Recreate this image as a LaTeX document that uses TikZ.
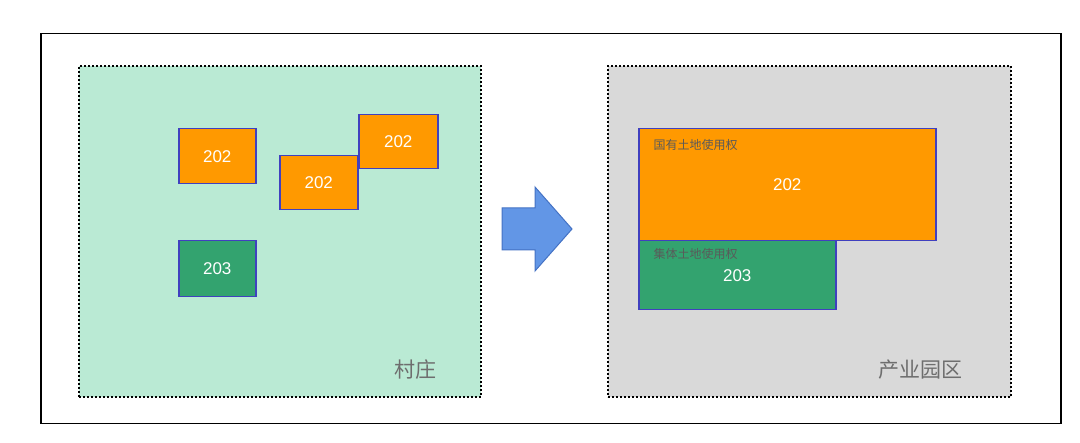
\documentclass[tikz,border=0pt]{standalone}
\usepackage{fontspec}
\setmainfont{Liberation Sans}
\newfontfamily\cjk{Noto Sans CJK SC}
\begin{document}
\begin{tikzpicture}[x=1pt,y=-1pt,
  panel/.style={draw=black,line width=2pt,dotted},
  lot/.style={draw=blue!50!gray,line width=1.5pt,text=white,font=\fontsize{17}{17}\selectfont},
  orange/.style={fill={rgb,255:red,255;green,153;blue,0}},
  green/.style={fill={rgb,255:red,51;green,163;blue,111}},
  lab/.style={text={rgb,255:red,90;green,90;blue,90},font=\cjk\fontsize{12}{12}\selectfont,anchor=north west}]
\useasboundingbox (0,0) rectangle (1080,443);
\node[draw=black,line width=1.5pt,minimum width=1020,minimum height=390,anchor=north west] (frame) at (40,33) {};
\node[panel,fill={rgb,255:red,186;green,234;blue,212},minimum width=402,minimum height=331,anchor=north west] (left) at (78,65) {};
\node[panel,fill={rgb,255:red,217;green,217;blue,217},minimum width=403,minimum height=331,anchor=north west] (right) at (607,65) {};
\node[lot,orange,minimum width=77,minimum height=55,anchor=north west] (a) at (178,128) {202};
\node[lot,orange,minimum width=78,minimum height=54,anchor=north west] (b) at (279,155) {202};
\node[lot,orange,minimum width=79,minimum height=54,anchor=north west] (c) at (358,114) {202};
\node[lot,green,minimum width=77,minimum height=56,anchor=north west] (d) at (178,240) {203};
\node[lot,orange,minimum width=297,minimum height=112,anchor=north west] (e) at (638,128) {202};
\node[lot,green,minimum width=197,minimum height=69,anchor=north west] (f) at (638,240) {\raisebox{-8pt}{203}};
\node[lab] (el) at (650,136) {国有土地使用权};
\node[lab] (fl) at (650,245) {集体土地使用权};
\node[text={rgb,255:red,110;green,110;blue,110},font=\cjk\fontsize{21}{21}\selectfont] (lt) at (415,370) {村庄};
\node[text={rgb,255:red,110;green,110;blue,110},font=\cjk\fontsize{21}{21}\selectfont] (rt) at (920,370) {产业园区};
\draw[draw={rgb,255:red,68;green,114;blue,196},fill={rgb,255:red,98;green,150;blue,230},line width=1pt]
  (502,208) -- (535,208) -- (535,187) -- (572,229) -- (535,271) -- (535,250) -- (502,250) -- cycle;
\end{tikzpicture}
\end{document}
